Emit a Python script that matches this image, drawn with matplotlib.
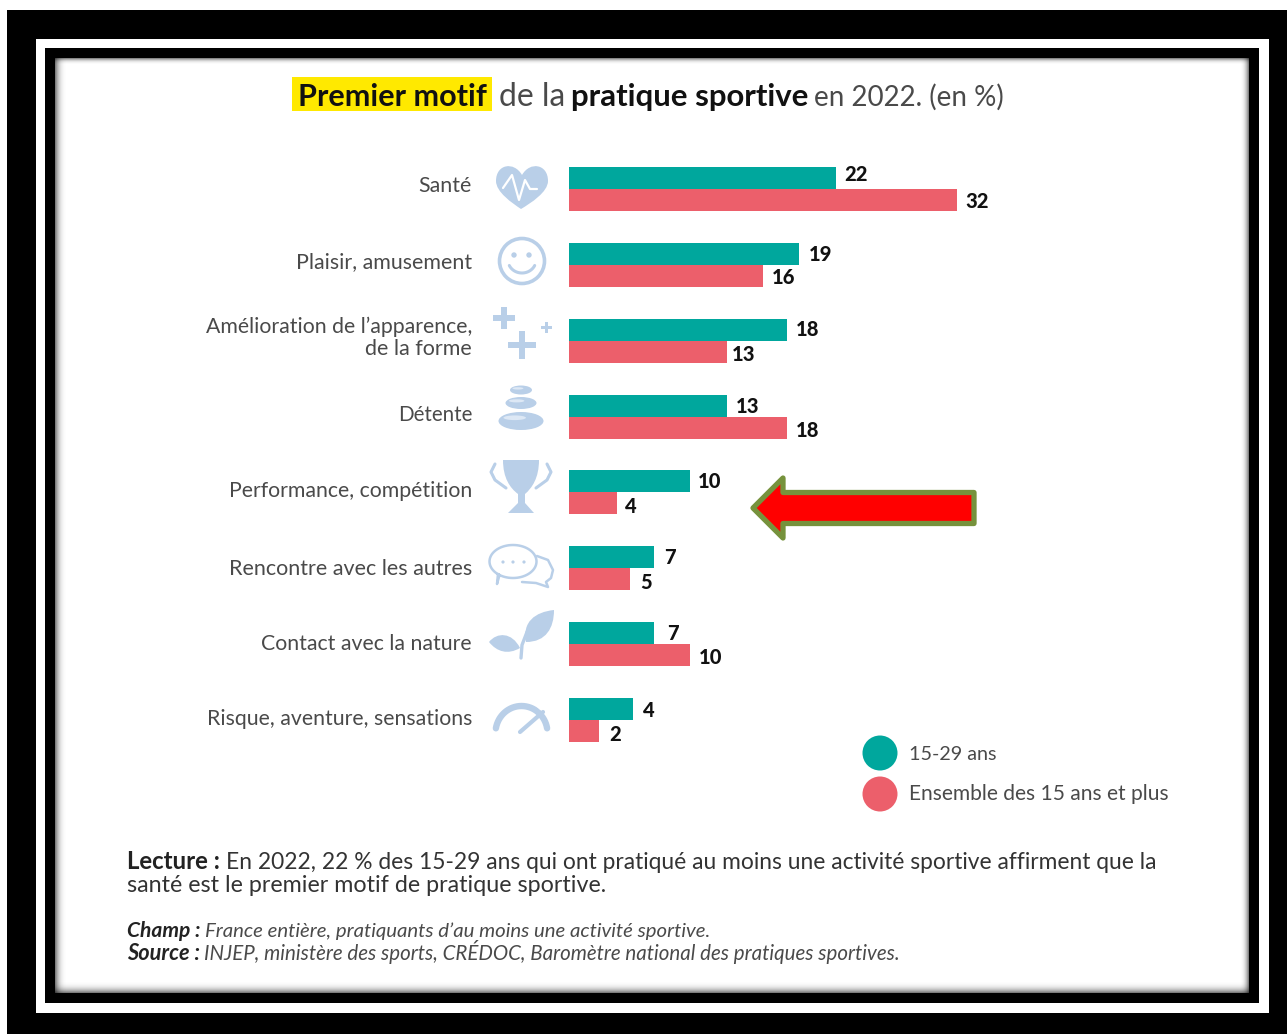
import numpy as np
import matplotlib
matplotlib.use("Agg")
import matplotlib.pyplot as plt
from matplotlib.patches import Rectangle, Circle, Ellipse, Polygon, PathPatch
from matplotlib.path import Path

FONT = "Lato"
W, H = 1287, 1034

categories = ["Santé", "Plaisir, amusement", "Amélioration de l’apparence,\nde la forme", "Détente",
              "Performance, compétition", "Rencontre avec les autres", "Contact avec la nature",
              "Risque, aventure, sensations"]
# printed values
jeunes = [22, 19, 18, 13, 10, 7, 7, 4]
ensemble = [32, 16, 13, 18, 4, 5, 10, 2]
# bar lengths as drawn in the picture (the last row is longer than its printed value)
bars_jeunes = [22, 19, 18, 13, 10, 7, 7, 5.3]
bars_ensemble = [32, 16, 13, 18, 4, 5, 10, 2.5]
series_names = ["15-29 ans", "Ensemble des 15 ans et plus"]

TEAL, RED = "#00A79D", "#EC5F6B"
ICON = "#B9CFE8"
GREY = "#4A4A4A"

fig = plt.figure(figsize=(W / 100, H / 100), dpi=100, facecolor="white")
bg = fig.add_axes([0, 0, 1, 1], zorder=0)
bg.set_xlim(0, W); bg.set_ylim(H, 0); bg.axis("off")

# frame
def rect(x0, y0, x1, y1, c, z=1):
    bg.add_patch(Rectangle((x0, y0), x1 - x0, y1 - y0, fc=c, ec="none", zorder=z))
rect(7, 10, W, H, "black")
rect(36, 39, 1269, 1013, "white", 2)
rect(45, 48, 1259, 1003, "black", 3)
rect(55, 58, 1249, 993, "white", 4)

# inner blurred shadow
def shade(x0, y0, x1, y1, horiz, rev, a=0.55):
    n = 32
    g = (np.linspace(1, 0, n) ** 3) * a
    if rev:
        g = g[::-1]
    arr = np.zeros((1, n, 4)) if horiz else np.zeros((n, 1, 4))
    arr[..., 3] = g.reshape(arr.shape[:2])
    bg.imshow(arr, extent=(x0, x1, y1, y0), aspect="auto", zorder=5, interpolation="bilinear")
shade(55, 58, 69, 993, True, False)
shade(1238, 58, 1249, 993, True, True)
shade(55, 58, 1249, 66, False, False)
shade(55, 979, 1249, 993, False, True)
bg.set_xlim(0, W); bg.set_ylim(H, 0)

rend = fig.canvas.get_renderer()
def put(x, base, s, width, color=GREY, weight="normal", style="normal", ha="left", z=8):
    t = bg.text(x, base, s, family=FONT, color=color, weight=weight, style=style,
                ha=ha, va="baseline", fontsize=12, zorder=z)
    w = t.get_window_extent(rend).width
    t.set_fontsize(12 * width / w)
    return t

# title
rect(292, 77, 492, 111, "#FFE900", 6)
put(298, 106, "Premier motif", 188, "#111111", "bold")
put(499, 106, "de la", 66)
put(571, 106, "pratique sportive", 236, "#111111", "bold")
put(814, 106, "en 2022. (en %)", 189)

# category labels
label_pos = [(192, 53), (268, 175), (333, 266), (421, 74), (497, 242), (575, 243), (650, 209), (725, 264)]
for (base, w), cat in zip(label_pos, categories):
    parts = cat.split("\n")
    put(472, base, parts[0], w, ha="right")
    if len(parts) > 1:
        put(472, base + 22, parts[1], 107, ha="right")

# bars
x0, x1, y0, y1 = 569, 1181, 151, 758
ax = fig.add_axes([x0 / W, 1 - y1 / H, (x1 - x0) / W, (y1 - y0) / H], zorder=2)
ax.patch.set_alpha(0)
ax.set_xlim(0, (x1 - x0) / 12.12)
ax.set_ylim(7.5, -0.5)
ax.axis("off")
pos = np.arange(len(categories))
h = 0.29
ax.barh(pos - h / 2, bars_jeunes, height=h, color=TEAL)
ax.barh(pos + h / 2, bars_ensemble, height=h, color=RED)
dx_j = [9, 10, 9, 9, 8, 10, 13, 10]
dy_j = [-3, 1, 0, 1, 0, 0, 0, 1]
dx_e = [9, 9, 5, 9, 7, 11, 9, 10]
dy_e = [2, 2, 3, 3, 3, 3, 2, 3]
for i in pos:
    for v, b, off, dx, dy in ((jeunes[i], bars_jeunes[i], -h / 2, dx_j[i], dy_j[i]),
                              (ensemble[i], bars_ensemble[i], h / 2, dx_e[i], dy_e[i])):
        ax.annotate(str(v), (b, i + off), xytext=(dx * .72, -dy * .72), textcoords="offset points",
                    family="Lato", weight="black", fontsize=14.5, color="#111111", ha="left", va="center")

# legend
bg.add_patch(Circle((880, 753), 17.5, fc=TEAL, ec="none", zorder=6))
bg.add_patch(Circle((880, 794), 17.5, fc=RED, ec="none", zorder=6))
put(909, 760, series_names[0], 87)
put(909, 800, series_names[1], 259)

# notes
put(127, 869, "Lecture :", 93, "#222222", "bold")
put(226, 869, "En 2022, 22 % des 15-29 ans qui ont pratiqué au moins une activité sportive affirment que la", 925, "#333333")
put(127, 892, "santé est le premier motif de pratique sportive.", 477, "#333333")
put(127, 937, "Champ :", 73, "#222222", "bold", "italic")
put(205, 937, "France entière, pratiquants d’au moins une activité sportive.", 504, GREY, "normal", "italic")
put(127, 960, "Source :", 73, "#222222", "bold", "italic")
put(204, 960, "INJEP, ministère des sports, CRÉDOC, Baromètre national des pratiques sportives.", 696, GREY, "normal", "italic")

# arrow
bg.add_patch(Polygon([(753, 508), (783, 478), (783, 492.5), (974, 492.5), (974, 523.5), (783, 523.5), (783, 538)],
                     closed=True, fc="#FF0000", ec="#76923C", lw=3.8, joinstyle="round", zorder=9))

# icons ---------------------------------------------------------------
Z = 7
def bez(verts, codes, fc=ICON, ec="none", lw=0):
    bg.add_patch(PathPatch(Path(verts, codes), fc=fc, ec=ec, lw=lw, zorder=Z))
M, C, L, CL = Path.MOVETO, Path.CURVE4, Path.LINETO, Path.CLOSEPOLY
def line(xs, ys, c=ICON, lw=3, z=Z):
    bg.plot(xs, ys, color=c, lw=lw, solid_capstyle="round", solid_joinstyle="round", zorder=z)

# heart
bez([(522, 175), (514, 161), (496, 164), (496, 181), (496, 192), (512, 203), (521, 209),
     (531, 203), (548, 192), (548, 181), (548, 164), (530, 161), (522, 175), (522, 175)],
    [M, C, C, C, C, C, C, C, C, C, C, C, C, CL])
line([503, 512, 519, 525, 530, 537], [188, 175, 200, 180, 189, 189], "white", 1.6, Z + 1)

# smile
bg.add_patch(Circle((522, 261), 22.5, fc="none", ec=ICON, lw=2.6, zorder=Z))
bg.add_patch(Circle((514, 255), 2.7, fc=ICON, ec="none", zorder=Z))
bg.add_patch(Circle((529, 255), 2.7, fc=ICON, ec="none", zorder=Z))
th = np.radians(np.arange(25, 156, 5))
line(522 + 14 * np.cos(th), 260 + 13 * np.sin(th), lw=2.2)

# plus signs
for cx, cy, s, t in ((504, 318, 11, 2.7), (522, 345, 14, 3.2), (546, 327, 5.5, 1.5)):
    bg.add_patch(Rectangle((cx - s, cy - t), 2 * s, 2 * t, fc=ICON, ec="none", zorder=Z))
    bg.add_patch(Rectangle((cx - t, cy - s), 2 * t, 2 * s, fc=ICON, ec="none", zorder=Z))

# stones
for cx, cy, w, hh in ((521, 390, 22, 9), (521, 403, 31, 12), (521, 421, 45, 18)):
    bg.add_patch(Ellipse((cx, cy), w, hh, fc=ICON, ec="none", zorder=Z))
    bg.add_patch(Ellipse((cx - w * .14, cy - hh * .18), w * .5, hh * .26, fc="#DDE8F5", ec="none", zorder=Z + 1))

# trophy
bez([(503, 460), (539, 460), (539, 478), (532, 488), (525, 494), (525, 503), (534, 513), (508, 513),
     (518, 503), (518, 494), (510, 488), (503, 478), (503, 460), (503, 460)],
    [M, L, C, C, C, L, L, L, L, L, C, C, C, CL])
line([495, 491, 495, 506], [464, 472, 480, 488], lw=2.2)
line([547, 551, 547, 536], [464, 472, 480, 488], lw=2.2)

# speech bubbles
t1 = np.radians(np.arange(125, 486, 5))
bx, by = 513 + 23.5 * np.cos(t1), 561.5 + 16.5 * np.sin(t1)
line(np.r_[bx, 497, 498, bx[0]], np.r_[by, 584, 574, by[0]], lw=1.8)
line([537, 548, 553, 551, 546, 548, 536, 522], [556, 560, 570, 578, 582, 587, 583, 582], lw=1.8)
for px in (503, 513, 524):
    bg.add_patch(Circle((px, 562), 1.6, fc=ICON, ec="none", zorder=Z))

# leaves
bez([(526, 642), (522, 622), (535, 612), (554, 610), (554, 628), (546, 642), (526, 642), (526, 642)],
    [M, C, C, C, C, C, C, CL])
bez([(489, 642), (497, 632), (512, 632), (520, 648), (508, 655), (497, 652), (489, 642), (489, 642)],
    [M, C, C, C, C, C, C, CL])
line([521, 522, 527, 540], [658, 645, 632, 618], lw=2.4)

# gauge
ta = np.radians(np.arange(190, 351, 5))
line(521.5 + 26 * np.cos(ta), 733 + 27 * np.sin(ta), lw=4.6)
line([520, 543], [732, 712], lw=3)
line([534, 541], [702, 709], "white", 1.8, Z + 1)

bg.set_xlim(0, W); bg.set_ylim(H, 0)
fig.savefig("out.png", dpi=100)
